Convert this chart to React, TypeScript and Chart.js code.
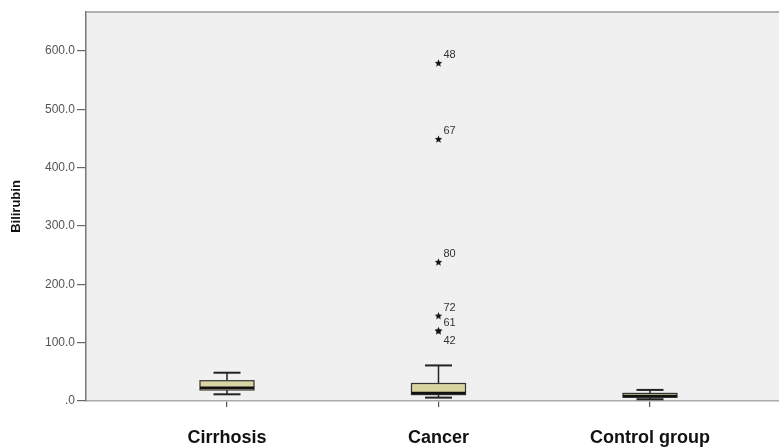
import React, { useEffect, useRef } from 'react';
import { Chart, registerables } from 'chart.js';
Chart.register(...registerables);

const categories = ['Cirrhosis', 'Cancer', 'Control group'];
const whiskerLow = [11.5, 5.8, 3];
const q1 = [18.9, 11, 6.3];
const median = [22.8, 13.7, 8.6];
const q3 = [34.8, 30, 13];
const whiskerHigh = [48.5, 61, 19];
const outlierGroup = 'Cancer';
const outlierValues = [579, 448.5, 237.7, 145.7, 120, 120];
const outlierLabels = ['48', '67', '80', '72', '61', '42'];
const yTickValues = [0, 100, 200, 300, 400, 500, 600];
const yMax = 667;

const FONT = 'Liberation Sans, Arial, Helvetica, sans-serif';

function makeStar(): HTMLCanvasElement {
  const c = document.createElement('canvas');
  c.width = 9;
  c.height = 9;
  const g = c.getContext('2d')!;
  g.fillStyle = '#111';
  g.beginPath();
  for (let i = 0; i < 10; i++) {
    const r = i % 2 === 0 ? 4.0 : 1.7;
    const a = -Math.PI / 2 + (i * Math.PI) / 5;
    g.lineTo(4.5 + r * Math.cos(a), 4.5 + r * Math.sin(a));
  }
  g.closePath();
  g.fill();
  return c;
}

const bgPlugin = {
  id: 'bgPlot',
  beforeDraw(chart: any) {
    const { ctx, chartArea: a } = chart;
    ctx.save();
    ctx.fillStyle = '#f0f0f0';
    ctx.fillRect(a.left, a.top, a.right - a.left, a.bottom - a.top);
    ctx.restore();
  },
  afterDraw(chart: any) {
    const { ctx, chartArea: a } = chart;
    ctx.save();
    ctx.strokeStyle = '#9a9a9a';
    ctx.lineWidth = 1.5;
    ctx.beginPath();
    ctx.moveTo(a.left, a.top);
    ctx.lineTo(a.right, a.top);
    ctx.stroke();
    ctx.restore();
  },
};

const boxPlugin = {
  id: 'boxes',
  beforeDatasetsDraw(chart: any) {
    const { ctx, scales } = chart;
    const x = scales.x;
    const y = scales.y;
    const line = (x1: number, y1: number, x2: number, y2: number) => {
      ctx.beginPath();
      ctx.moveTo(x1, y1);
      ctx.lineTo(x2, y2);
      ctx.stroke();
    };
    ctx.save();
    categories.forEach((_, i) => {
      const cx = x.getPixelForValue(i + 1);
      const half = 27;
      const cap = 13.5;
      const yLow = y.getPixelForValue(whiskerLow[i]);
      const yQ1 = y.getPixelForValue(q1[i]);
      const yMed = y.getPixelForValue(median[i]);
      const yQ3 = y.getPixelForValue(q3[i]);
      const yHigh = y.getPixelForValue(whiskerHigh[i]);
      ctx.strokeStyle = '#222';
      ctx.lineWidth = 1.5;
      line(cx, yHigh, cx, yQ3);
      line(cx, yQ1, cx, yLow);
      ctx.lineWidth = 2;
      line(cx - cap, yHigh, cx + cap, yHigh);
      line(cx - cap, yLow, cx + cap, yLow);
      ctx.fillStyle = '#d9d5a2';
      ctx.fillRect(cx - half, yQ3, 2 * half, yQ1 - yQ3);
      ctx.lineWidth = 1.2;
      ctx.strokeStyle = '#333';
      ctx.strokeRect(cx - half, yQ3, 2 * half, yQ1 - yQ3);
      ctx.lineWidth = 2.5;
      ctx.strokeStyle = '#111';
      line(cx - half, yMed, cx + half, yMed);
    });
    ctx.restore();
  },
  afterDatasetsDraw(chart: any) {
    const { ctx, scales } = chart;
    const x = scales.x;
    const y = scales.y;
    const gx = x.getPixelForValue(categories.indexOf(outlierGroup) + 1);
    ctx.save();
    ctx.fillStyle = '#333';
    ctx.font = `11px ${FONT}`;
    ctx.textAlign = 'left';
    ctx.textBaseline = 'middle';
    outlierValues.forEach((v, i) => {
      const py = y.getPixelForValue(v);
      const dup = outlierValues.slice(0, i).includes(v);
      ctx.fillText(outlierLabels[i], gx + 5, dup ? py + 10 : py - 8);
    });
    ctx.restore();
  },
};

export default function App() {
  const ref = useRef<HTMLCanvasElement>(null);
  useEffect(() => {
    if (!ref.current) return;
    const gIdx = categories.indexOf(outlierGroup) + 1;
    const chart = new Chart(ref.current, {
      type: 'scatter',
      data: {
        datasets: [
          {
            data: outlierValues.map((v) => ({ x: gIdx, y: v })),
            pointStyle: makeStar() as any,
            pointRadius: 4,
            backgroundColor: '#111',
            borderColor: '#111',
          },
        ],
      },
      options: {
        animation: false,
        responsive: false,
        devicePixelRatio: 1,
        layout: { autoPadding: false, padding: { top: 12, right: 0, left: 0, bottom: 0 } },
        plugins: { legend: { display: false }, tooltip: { enabled: false } },
        scales: {
          x: {
            type: 'linear',
            min: 0.3333,
            max: 3.61,
            afterBuildTicks: (s: any) => {
              s.ticks = categories.map((_, i) => ({ value: i + 1 }));
            },
            afterFit: (s: any) => {
              s.height = 47;
              s.paddingLeft = 0;
              s.paddingRight = 0;
            },
            ticks: {
              callback: (v: any) => categories[Math.round(Number(v)) - 1] ?? '',
              font: { family: FONT, size: 18, weight: 'bold' },
              color: '#111',
              padding: 20,
              maxRotation: 0,
              autoSkip: false,
            },
            grid: { drawOnChartArea: false, tickLength: 6, color: '#555', lineWidth: 1.2 },
            border: { color: '#aaa', width: 1.5 },
          },
          y: {
            type: 'linear',
            min: 0,
            max: yMax,
            afterBuildTicks: (s: any) => {
              s.ticks = yTickValues.map((v) => ({ value: v }));
            },
            afterFit: (s: any) => {
              s.width = 86;
              s.paddingTop = 0;
              s.paddingBottom = 0;
            },
            ticks: {
              callback: (v: any) => (Number(v) === 0 ? '.0' : Number(v).toFixed(1)),
              font: { family: FONT, size: 12 },
              color: '#555',
              padding: 2,
            },
            grid: { drawOnChartArea: false, tickLength: 9, color: '#666', lineWidth: 1.2 },
            border: { color: '#777', width: 1.5 },
            title: {
              display: true,
              text: 'Bilirubin',
              font: { family: FONT, size: 13, weight: 'bold' },
              color: '#111',
              padding: { top: 9, bottom: 0 },
            },
          },
        },
      },
      plugins: [bgPlugin, boxPlugin],
    });
    return () => chart.destroy();
  }, []);
  return (
    <div style={{ position: 'absolute', left: 0, top: 0, width: 779, height: 448, overflow: 'hidden' }}>
      <canvas ref={ref} width={779} height={448} style={{ display: 'block', width: 779, height: 448 }} />
    </div>
  );
}
